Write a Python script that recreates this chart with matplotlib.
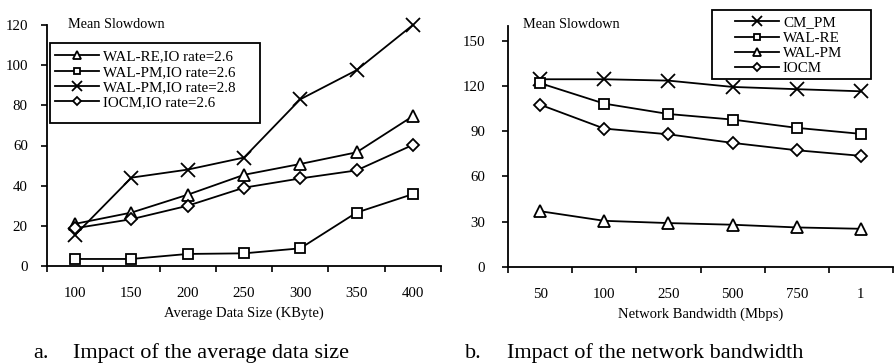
import numpy as np
import matplotlib
matplotlib.use("Agg")
import matplotlib.pyplot as plt
from matplotlib.ticker import FixedLocator
from matplotlib.patches import Rectangle

plt.rcParams['font.family'] = ['Liberation Serif', 'DejaVu Serif']

# left chart: average data size
size_labels = ['100', '150', '200', '250', '300', '350', '400']
walre_26 = [21, 26.6, 35.5, 45.4, 50.8, 56.6, 74.6]
walpm_26 = [3.5, 3.5, 6, 6.3, 8.8, 26.6, 35.8]
walpm_28 = [15.5, 44, 48, 54, 83, 97.5, 120]
iocm_26 = [18.8, 23.3, 30, 39, 43.6, 47.6, 60.3]

# right chart: network bandwidth
bw_labels = ['50', '100', '250', '500', '750', '1']
cm_pm = [124.6, 124.6, 123.7, 119.5, 118, 116.6]
wal_re = [122, 108.4, 101.5, 97.8, 92.3, 88.3]
wal_pm = [36.9, 30.5, 29, 27.9, 26.1, 25.2]
iocm = [107.7, 91.8, 88, 82.3, 77.4, 73.7]

W, H = 894, 364
fig = plt.figure(figsize=(W / 100, H / 100), dpi=100)

def fx(px):
    return px / W

def fy(py):
    return 1 - py / H

def style_axes(ax, labels, ymax, yticks, ypad):
    n = len(labels)
    x = np.arange(n)
    ax.set_xlim(-0.5, n - 0.5)
    ax.set_ylim(0, ymax)
    ax.set_xticks(x)
    ax.set_xticklabels(labels)
    ax.xaxis.set_minor_locator(FixedLocator(np.arange(n + 1) - 0.5))
    ax.tick_params(axis='x', which='major', length=0, pad=15, labelsize=10.7)
    ax.tick_params(axis='x', which='minor', length=4, width=1.2, direction='out')
    ax.set_yticks(yticks)
    ax.tick_params(axis='y', length=4.3, width=1.2, direction='out', labelsize=10.7, pad=ypad)
    for s in ['top', 'right']:
        ax.spines[s].set_visible(False)
    for s in ['left', 'bottom']:
        ax.spines[s].set_linewidth(1.3)
    return x

base = dict(color='black', lw=1.3, markerfacecolor='white',
            markeredgecolor='black', markeredgewidth=1.3, clip_on=False)
tri = dict(marker='^', markersize=8, **base)
sq = dict(marker='s', markersize=7, **base)
cross = dict(marker='x', markersize=10, **base)
dia = dict(marker='D', markersize=6.5, **base)

def add_legend(ax, x0, y0, box):
    leg = ax.legend(loc='upper left', bbox_to_anchor=(fx(x0), fy(y0)),
                    bbox_transform=fig.transFigure, fontsize=10.8, frameon=False,
                    borderpad=0, labelspacing=0.12, handlelength=2.9,
                    handletextpad=0.3, borderaxespad=0, markerscale=0.7)
    bx0, by0, bx1, by1 = box
    fig.patches.append(Rectangle((fx(bx0), fy(by1)), fx(bx1) - fx(bx0), fy(by0) - fy(by1),
                                 transform=fig.transFigure, fill=False,
                                 edgecolor='black', lw=1.3))
    return leg

# ---- left ----
ax1 = fig.add_axes([fx(47), fy(266), fx(441) - fx(47), (266 - 25) / H])
x = style_axes(ax1, size_labels, 120, range(0, 121, 20), 9.5)
ax1.plot(x, walre_26, label='WAL-RE,IO rate=2.6', **tri)
ax1.plot(x, walpm_26, label='WAL-PM,IO rate=2.6', **sq)
ax1.plot(x, walpm_28, label='WAL-PM,IO rate=2.8', **cross)
ax1.plot(x, iocm_26, label='IOCM,IO rate=2.6', **dia)
ax1.set_xlabel('Average Data Size (KByte)', fontsize=10.5, labelpad=5)
fig.text(fx(68), fy(24), 'Mean Slowdown', fontsize=10.3, va='center')
add_legend(ax1, 55, 50, (50, 43, 260, 123))

# ---- right ----
ax2 = fig.add_axes([fx(508), fy(266.7), fx(893) - fx(508), (266.7 - 26) / H])
x = style_axes(ax2, bw_labels, 160, range(0, 151, 30), 12)
ax2.plot(x, cm_pm, label='CM_PM', **cross)
ax2.plot(x, wal_re, label='WAL-RE', **sq)
ax2.plot(x, wal_pm, label='WAL-PM', **tri)
ax2.plot(x, iocm, label='IOCM', **dia)
ax2.set_xlabel('Network Bandwidth (Mbps)', fontsize=10.5, labelpad=5)
fig.text(fx(523), fy(24), 'Mean Slowdown', fontsize=10.3, va='center')
add_legend(ax2, 735, 16, (712, 10, 871, 79))

# captions
cap_y = fy(358)
fig.text(fx(33), cap_y, 'a.', fontsize=16, va='baseline')
fig.text(fx(73), cap_y, 'Impact of the average data size', fontsize=16, va='baseline')
fig.text(fx(465), cap_y, 'b.', fontsize=16, va='baseline')
fig.text(fx(507), cap_y, 'Impact of the network bandwidth', fontsize=16, va='baseline')

fig.savefig('out.png', dpi=100)
